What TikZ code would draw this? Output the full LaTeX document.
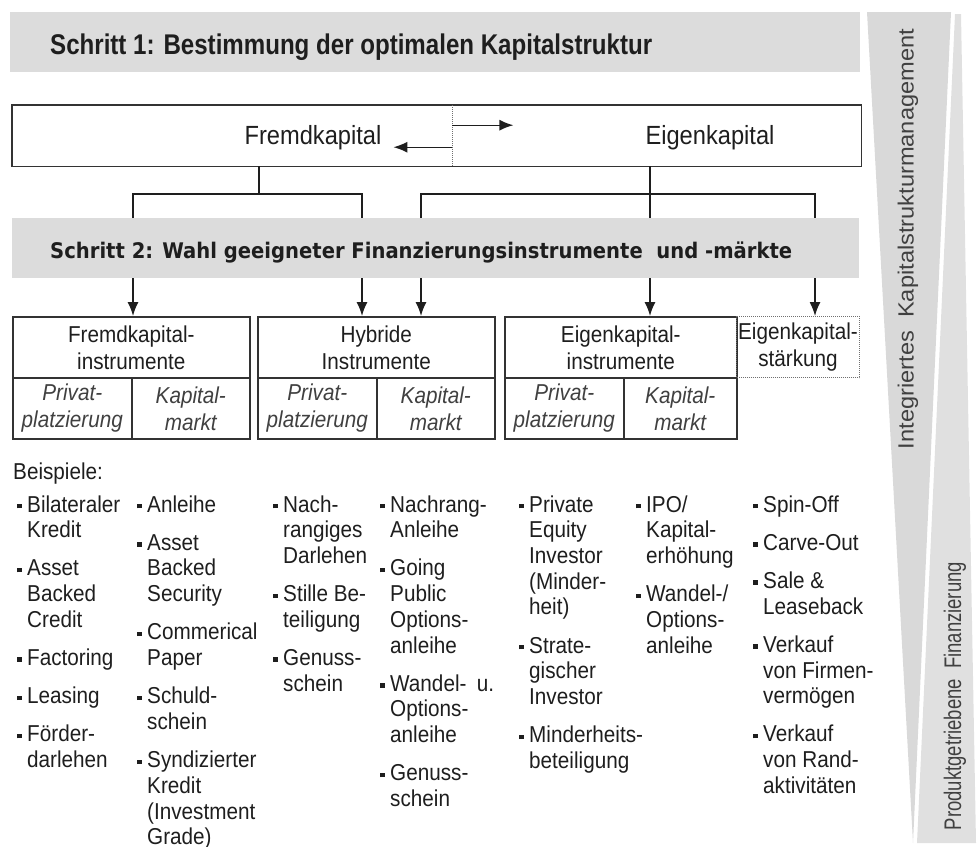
\documentclass[tikz,border=0pt]{standalone}
\usepackage{fontspec}
\setmainfont{Liberation Sans}[FakeStretch=0.9]
\newfontfamily\titlefont{Liberation Sans}
\newfontfamily\stepfont{DejaVu Sans}
\usetikzlibrary{arrows.meta}

\definecolor{bargray}{HTML}{DCDCDC}
\definecolor{wedgeA}{HTML}{D9D9D9}
\definecolor{wedgeB}{HTML}{E0E0E0}
\definecolor{ink}{HTML}{1E1E1E}
\definecolor{frame}{HTML}{333333}

% small square bullet hanging left of an item
\newcommand\bul{\leavevmode\llap{\rule[3.6pt]{4.5pt}{4.5pt}\hspace{5.5pt}}}
% one column of examples
\newcommand\examplecol[1]{\parbox[t]{150pt}{\fontsize{23}{25.7}\selectfont\setlength{\parskip}{12.5pt}\raggedright #1}}

\tikzset{
  conn/.style={draw=ink, line width=1.4pt},
  arr/.style={conn, -{Latex[length=14pt,width=11pt]}},
  cell/.style={draw=frame, line width=1.6pt, anchor=north west, inner sep=0pt,
    align=center, text=ink, minimum height=61pt, font=\fontsize{23}{27}\selectfont},
  subcell/.style={cell, text=ink!85, font=\fontsize{23}{27}\selectfont\itshape},
  bar/.style={fill=bargray, anchor=north west, inner sep=0pt, minimum height=60pt},
  listcol/.style={anchor=base west, inner sep=0pt, text=ink},
  sidelabel/.style={rotate=90, inner sep=0pt, text=ink!85},
}

\begin{document}
\begin{tikzpicture}[x=1pt,y=-1pt]
\useasboundingbox (0,0) rectangle (979,846);

% side wedges
\fill[wedgeA] (867,12) -- (951,12) -- (913,843) -- cycle;
\fill[wedgeB] (955,14) -- (961,14) -- (976,843) -- (917,843) -- cycle;
\node[sidelabel] (wa) at (908,239)
  {\fontsize{22}{24}\selectfont\resizebox{420pt}{\height}{Integriertes\ \ Kapitalstrukturmanagement}};
\node[sidelabel] (wb) at (955,696)
  {\fontsize{24}{26}\selectfont\resizebox{268pt}{\height}{Produktgetriebene\ \ Finanzierung}};

% step 1
\node[bar, minimum width=850pt] (s1) at (10,12) {};
\node[anchor=base west, inner sep=0pt, text=ink] (s1t) at (50,54)
  {\titlefont\bfseries\fontsize{28.5}{30}\selectfont\resizebox{602pt}{\height}{Schritt 1: Bestimmung der optimalen Kapitalstruktur}};

% capital split
\node[anchor=north west, inner sep=0pt, minimum width=440pt, minimum height=61pt] (fkbox) at (12,105) {};
\node[anchor=north west, inner sep=0pt, minimum width=409pt, minimum height=61pt] (ekbox) at (452,105) {};
\draw[frame, line width=1.6pt] (fkbox.north west) rectangle (ekbox.south east);
\draw[frame!70, line width=1pt, densely dotted] (fkbox.north east) -- (fkbox.south east);
\node[anchor=base, inner sep=0pt, text=ink, font=\fontsize{26.3}{30}\selectfont] (fk) at (313,144) {Fremdkapital};
\node[anchor=base, inner sep=0pt, text=ink, font=\fontsize{26.3}{30}\selectfont] (ek) at (710,144) {Eigenkapital};
\draw[arr] ([yshift=10.5pt]fkbox.east) -- ++(61,0);
\draw[arr] ([yshift=-11.5pt]fkbox.east) -- ++(-59,0);

% step 2
\node[bar, minimum width=847pt] (s2) at (12,218) {};
\node[anchor=base west, inner sep=0pt, text=ink] (s2t) at (50,258)
  {\stepfont\bfseries\fontsize{21.5}{24}\selectfont\resizebox{742pt}{\height}{Schritt 2: Wahl geeigneter Finanzierungsinstrumente\ \ und -märkte}};

% instrument boxes
\node[cell, minimum width=237pt] (fki) at (12,316) {Fremdkapital-\\instrumente};
\node[subcell, minimum width=119pt] (fkp) at (12,377) {Privat-\\platzierung};
\node[subcell, minimum width=118pt] (fkm) at (131,377) {Kapital-\\markt};
\node[cell, minimum width=237pt] (hyi) at (257,316) {Hybride\\Instrumente};
\node[subcell, minimum width=119pt] (hyp) at (257,377) {Privat-\\platzierung};
\node[subcell, minimum width=118pt] (hym) at (376,377) {Kapital-\\markt};
\node[cell, minimum width=232pt] (eki) at (504,316) {Eigenkapital-\\instrumente};
\node[subcell, minimum width=119pt] (ekp) at (504,377) {Privat-\\platzierung};
\node[subcell, minimum width=113pt] (ekm) at (623,377) {Kapital-\\markt};
\node[cell, draw=frame!70, line width=1pt, densely dotted, minimum width=123pt] (eks) at (736,316) {Eigenkapital-\\stärkung};

% connector columns
\coordinate (xa) at (133,0);
\coordinate (xb) at (362,0);
\coordinate (xc) at (421,0);
\coordinate (xd) at (650,0);
\coordinate (xe) at (815,0);
\coordinate (xf) at (259,0);
\coordinate (hy) at (0,194);

\draw[conn] (xf |- fkbox.south) -- (xf |- hy);
\draw[conn] (xa |- s2.north) |- (hy -| xb) -- (xb |- s2.north);
\draw[conn] (xd |- ekbox.south) -- (xd |- s2.north);
\draw[conn] (xc |- s2.north) |- (hy -| xe) -- (xe |- s2.north);

\draw[arr] (xa |- s2.south) -- (xa |- fki.north);
\draw[arr] (xb |- s2.south) -- (xb |- hyi.north);
\draw[arr] (xc |- s2.south) -- (xc |- hyi.north);
\draw[arr] (xd |- s2.south) -- (xd |- eki.north);
\draw[arr] (xe |- s2.south) -- (xe |- eks.north);

% examples
\node[listcol, font=\fontsize{23}{25.7}\selectfont] (bsp) at (13,479) {Beispiele:};
\node[listcol] (c1) at (27,512) {\examplecol{%
  \bul Bilateraler\\Kredit\par
  \bul Asset\\Backed\\Credit\par
  \bul Factoring\par
  \bul Leasing\par
  \bul Förder-\\darlehen}};
\node[listcol] (c2) at (147,512) {\examplecol{%
  \bul Anleihe\par
  \bul Asset\\Backed\\Security\par
  \bul Commerical\\Paper\par
  \bul Schuld-\\schein\par
  \bul Syndizierter\\Kredit\\(Investment\\Grade)}};
\node[listcol] (c3) at (283,512) {\examplecol{%
  \bul Nach-\\rangiges\\Darlehen\par
  \bul Stille Be-\\teiligung\par
  \bul Genuss-\\schein}};
\node[listcol] (c4) at (390,512) {\examplecol{%
  \bul Nachrang-\\Anleihe\par
  \bul Going\\Public\\Options-\\anleihe\par
  \bul Wandel-\hspace{0.45em}u.\\Options-\\anleihe\par
  \bul Genuss-\\schein}};
\node[listcol] (c5) at (529,512) {\examplecol{%
  \bul Private\\Equity\\Investor\\(Minder-\\heit)\par
  \bul Strate-\\gischer\\Investor\par
  \bul Minderheits-\\beteiligung}};
\node[listcol] (c6) at (646,512) {\examplecol{%
  \bul IPO/\\Kapital-\\erhöhung\par
  \bul Wandel-/\\Options-\\anleihe}};
\node[listcol] (c7) at (763,512) {\examplecol{%
  \bul Spin-Off\par
  \bul Carve-Out\par
  \bul Sale \&\\Leaseback\par
  \bul Verkauf\\von Firmen-\\vermögen\par
  \bul Verkauf\\von Rand-\\aktivitäten}};
\end{tikzpicture}
\end{document}
